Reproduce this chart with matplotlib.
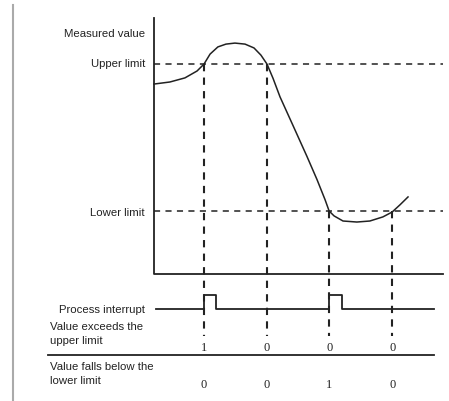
import matplotlib.pyplot as plt
import numpy as np

# measured value over time (time 0..10, value 0..10)
curve_t = [0.0, 0.55, 1.07, 1.49, 1.73, 1.94, 2.21, 2.49, 2.80, 3.15, 3.46, 3.70, 3.91,
           4.12, 4.36, 4.81, 5.29, 5.64, 5.92, 6.06, 6.23, 6.54, 7.02, 7.47, 7.92, 8.24, 8.51, 8.79]
curve_v = [7.42, 7.50, 7.66, 7.93, 8.20, 8.59, 8.87, 8.98, 9.02, 8.98, 8.83, 8.55, 8.20,
           7.64, 6.92, 5.80, 4.60, 3.69, 2.90, 2.46, 2.27, 2.07, 2.03, 2.07, 2.23, 2.42, 2.70, 3.01]
upper_limit = 8.2
lower_limit = 2.46

crossings = [1.73, 3.91, 6.06, 8.24]
exceeds_upper = [1, 0, 0, 0]
below_lower = [0, 0, 1, 0]
interrupt = [1, 0, 1, 0]
pulse_width = 0.43

row_labels = ["Measured value", "Upper limit", "Lower limit", "Process interrupt"]
table_labels = ["Value exceeds the\nupper limit", "Value falls below the\nlower limit"]

# layout levels below the axis (in value units)
interrupt_base = -1.37
interrupt_high = -0.82
row1_y = -2.89
row2_y = -4.34
sep_y = -3.16
vdash_end = -2.42

ink = "#222222"
label_font = ["Liberation Sans", "DejaVu Sans"]
digit_font = ["Liberation Serif", "DejaVu Serif"]
fs = 8.2

fig = plt.figure(figsize=(4.49, 4.01), dpi=100)
ax = fig.add_axes([0, 0, 1, 1])
ax.set_xlim(-5.329, 10.208)
ax.set_ylim(-4.961, 10.703)
ax.axis('off')

# left page border
ax.plot([-4.88, -4.88], [10.51, -5], color="#aaaaaa", lw=1.5)

# axes of the measured value plot
ax.plot([0, 0, 10], [10, 0, 0], color=ink, lw=1.3)

# limits
ax.plot([0, 10], [upper_limit, upper_limit], color=ink, lw=1.1, dashes=(4, 3.5))
ax.plot([0, 10], [lower_limit, lower_limit], color=ink, lw=1.1, dashes=(4, 3.5))

# the curve
ax.plot(curve_t, curve_v, color=ink, lw=1.1)

# vertical markers at crossings
for i, t in enumerate(crossings):
    start = upper_limit if i < 2 else lower_limit
    ax.plot([t, t], [start, vdash_end], color=ink, lw=1.5, dashes=(3.5, 3))

# process interrupt signal
sig_t = [0.07]
sig_v = [interrupt_base]
for t, flag in zip(crossings, interrupt):
    if flag:
        sig_t += [t, t, t + pulse_width, t + pulse_width]
        sig_v += [interrupt_base, interrupt_high, interrupt_high, interrupt_base]
sig_t.append(9.69)
sig_v.append(interrupt_base)
ax.plot(sig_t, sig_v, color=ink, lw=1.3)

# separator between the two table rows
ax.plot([-3.67, 9.69], [sep_y, sep_y], color=ink, lw=1.3)

# labels
label_y = [9.26, 8.09, 2.27, -1.52]
for txt, y in zip(row_labels, label_y):
    ax.text(-0.31, y, txt, ha='right', va='baseline', fontsize=fs,
            family=label_font, color=ink)
ax.text(-3.6, -1.875, table_labels[0], ha='left', va='top', fontsize=fs,
        family=label_font, color=ink, linespacing=1.5)
ax.text(-3.6, -3.44, table_labels[1], ha='left', va='top', fontsize=fs,
        family=label_font, color=ink, linespacing=1.5)

for t, a, b in zip(crossings, exceeds_upper, below_lower):
    ax.text(t, row1_y, str(a), ha='center', va='center', fontsize=9,
            family=digit_font, color=ink)
    ax.text(t, row2_y, str(b), ha='center', va='center', fontsize=9,
            family=digit_font, color=ink)

plt.savefig("out.png", dpi=100)
